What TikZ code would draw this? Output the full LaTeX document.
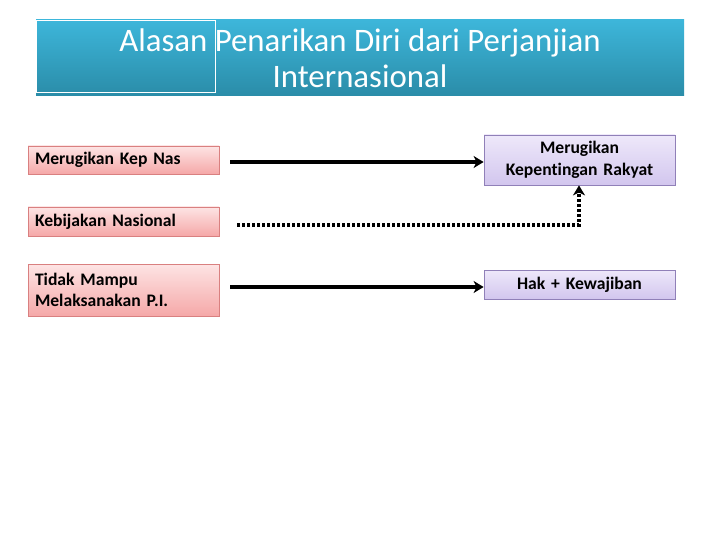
\documentclass[tikz,border=0pt]{standalone}
\usepackage{fontspec}
\setmainfont[Ligatures=NoCommon]{Carlito}
\usetikzlibrary{arrows.meta,shadings}
\definecolor{titletop}{HTML}{3DB6DA}
\definecolor{titlebot}{HTML}{2A8CA8}
\definecolor{pinktop}{HTML}{FDE4E4}
\definecolor{pinkbot}{HTML}{F5A8A8}
\definecolor{pinkline}{HTML}{D98080}
\definecolor{purptop}{HTML}{EEE8FA}
\definecolor{purpbot}{HTML}{D2C6EE}
\definecolor{purpline}{HTML}{9080B8}
\tikzset{
  leftbox/.style={draw=pinkline, line width=0.8pt, top color=pinktop, bottom color=pinkbot, minimum width=191pt, text width=177pt, align=left, inner xsep=7pt, inner ysep=0pt, font=\fontsize{17.6}{21}\selectfont\bfseries},
  rightbox/.style={draw=purpline, line width=0.8pt, top color=purptop, bottom color=purpbot, minimum width=191pt, text width=181pt, align=center, inner xsep=5pt, inner ysep=0pt, font=\fontsize{17.6}{22}\selectfont\bfseries},
  conn/.style={line width=3.5pt, -{Stealth[length=10pt,width=12pt,inset=3pt]}},
  dotconn/.style={line width=3.5pt, dash pattern=on 3pt off 2pt, -{Stealth[length=10pt,width=12pt,inset=3pt]}}
}
\begin{document}
\begin{tikzpicture}[x=1pt,y=-1pt]
\useasboundingbox (0,0) rectangle (720,540);
\fill[white] (0,0) rectangle (720,540);
% title banner
\shade[top color=titletop, bottom color=titlebot] (36,20) rectangle (684,96);
\draw[white, line width=0.8pt] (36,20) rectangle (215,92);
\node[text=white, font=\fontsize{32.8}{36}\selectfont, align=center] (title) at (360,58.5) {Alasan Penarikan Diri dari Perjanjian\\Internasional};
% left boxes
\node[leftbox, minimum height=28pt] (l1) at (123.5,160) {Merugikan Kep Nas};
\node[leftbox, minimum height=29pt] (l2) at (123.5,221.5) {Kebijakan Nasional};
\node[leftbox, minimum height=52pt] (l3) at (123.5,290) {Tidak Mampu\\Melaksanakan P.I.};
% right boxes
\node[rightbox, minimum height=50pt] (r1) at (579.5,160) {Merugikan\\Kepentingan Rakyat};
\node[rightbox, minimum height=29pt] (r2) at (579.5,284.5) {Hak + Kewajiban};
% connectors
\coordinate (a1) at (230,162);
\coordinate (a3) at (230,287);
\coordinate (d0) at (237,225);
\coordinate (dc) at (579,225);
\draw[conn] (a1) -- (r1.west |- a1);
\draw[conn] (a3) -- (r2.west |- a3);
\draw[dotconn] (d0) -- (dc) -- (r1.south -| dc);
\end{tikzpicture}
\end{document}
